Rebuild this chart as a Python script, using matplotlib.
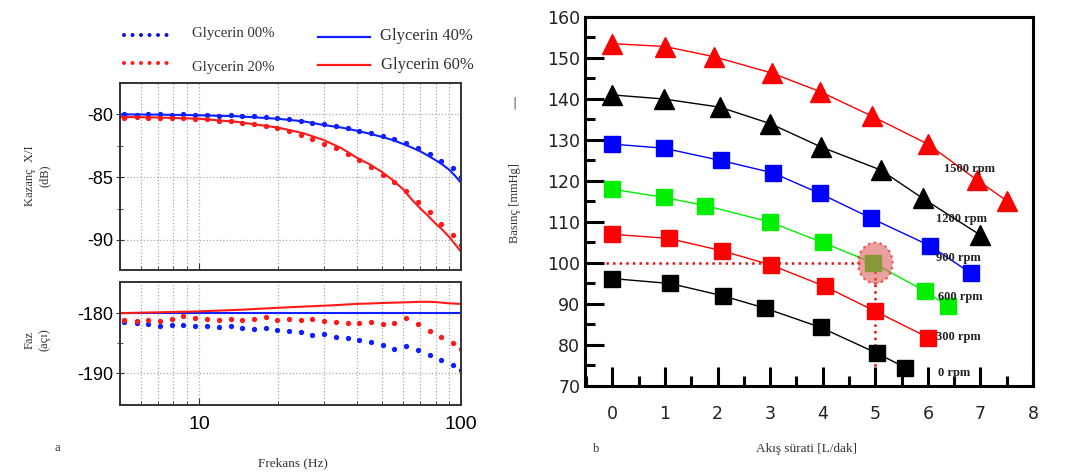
import matplotlib
matplotlib.use('Agg')
import matplotlib.pyplot as plt
from matplotlib.lines import Line2D
from matplotlib.patches import Ellipse
from matplotlib.ticker import LogLocator, NullFormatter, FixedLocator, MultipleLocator, FixedFormatter

# ---- panel a: bode-type data ----
f_pts = [5.2, 5.8, 6.4, 7.1, 7.9, 8.7, 9.7, 10.7, 11.9, 13.2, 14.6, 16.2, 18.0, 19.9, 22.1,
         24.5, 27.1, 30.1, 33.3, 36.9, 40.9, 45.4, 50.3, 55.7, 61.8, 68.5, 75.9, 84.1, 93.2, 100.0]
gain_00 = [-80.0, -80.05, -79.98, -80.0, -80.03, -79.98, -80.05, -80.05, -80.1, -80.08, -80.12, -80.15,
           -80.22, -80.3, -80.4, -80.5, -80.65, -80.8, -80.95, -81.1, -81.3, -81.5, -81.75, -82.0,
           -82.3, -82.65, -83.15, -83.7, -84.3, -85.0]
gain_20 = [-80.25, -80.2, -80.3, -80.25, -80.3, -80.3, -80.4, -80.4, -80.5, -80.55, -80.65, -80.75,
           -80.95, -81.1, -81.35, -81.65, -81.95, -82.35, -82.7, -83.15, -83.65, -84.2, -84.8, -85.4,
           -86.1, -86.95, -87.8, -88.7, -89.6, -90.4]
phase_00 = [-181.5, -181.7, -181.8, -182.1, -181.9, -182.0, -182.1, -182.2, -182.3, -182.2, -182.5,
            -182.6, -182.5, -182.8, -182.9, -183.2, -183.6, -183.5, -183.9, -184.1, -184.5, -184.8,
            -185.3, -186.0, -185.5, -186.2, -187.0, -187.8, -188.6, -189.4]
phase_20 = [-181.2, -181.3, -181.1, -181.3, -181.0, -180.4, -180.8, -181.0, -181.2, -180.9, -181.2,
            -181.0, -180.7, -181.1, -181.0, -181.2, -181.0, -181.3, -181.5, -181.6, -181.7, -181.4,
            -181.8, -181.6, -180.8, -181.8, -182.9, -184.0, -185.0, -186.0]

f_line = [5, 7, 10, 14, 20, 25, 30, 35, 40, 45, 50, 55, 60, 65, 70, 75, 80, 85, 90, 95, 100]
gain_40 = [-80.0, -80.02, -80.07, -80.15, -80.35, -80.55, -80.85, -81.05, -81.3, -81.55, -81.8,
           -82.05, -82.35, -82.65, -82.95, -83.3, -83.65, -84.0, -84.4, -84.9, -85.45]
gain_60 = [-80.2, -80.25, -80.35, -80.6, -81.05, -81.5, -82.05, -82.7, -83.45, -84.0, -84.6,
           -85.25, -85.95, -86.8, -87.5, -88.1, -88.7, -89.2, -89.75, -90.35, -90.95]
phase_60 = [-180.0, -179.85, -179.7, -179.45, -179.1, -178.9, -178.75, -178.6, -178.45, -178.38,
            -178.3, -178.25, -178.2, -178.15, -178.1, -178.1, -178.15, -178.25, -178.35, -178.4, -178.45]
phase_40 = [-180.0] * len(f_line)

# ---- panel b: pump curves ----
rpm_labels = ['1500 rpm', '1200 rpm', '900 rpm', '600 rpm', '300 rpm', '0 rpm']
flow = [
    [0, 1.0, 1.94, 3.04, 3.95, 4.94, 6.0, 6.94, 7.5],
    [0, 0.98, 2.05, 3.0, 3.97, 5.1, 5.9, 7.0],
    [0, 0.98, 2.06, 3.05, 3.94, 4.91, 6.04, 6.82],
    [0, 0.98, 1.77, 3.0, 4.0, 4.96, 5.94, 6.38],
    [0, 1.07, 2.08, 3.02, 4.04, 4.99, 6.01],
    [0, 1.1, 2.1, 2.9, 3.96, 5.03, 5.57],
]
pressure = [
    [153.5, 152.8, 150.3, 146.3, 141.8, 135.8, 129.0, 120.2, 115.2],
    [141.0, 140.0, 138.0, 134.0, 128.3, 122.7, 115.8, 106.8],
    [129.0, 128.0, 125.0, 122.0, 117.0, 111.0, 104.2, 97.5],
    [118.0, 116.0, 114.0, 110.0, 105.0, 100.0, 93.2, 89.5],
    [107.0, 106.0, 103.0, 99.5, 94.3, 88.3, 81.8],
    [96.2, 95.0, 92.0, 89.0, 84.3, 78.0, 74.5],
]
curve_colors = ['#ff0000', '#000000', '#0000ff', '#00ee00', '#ff0000', '#000000']
curve_markers = ['^', '^', 's', 's', 's', 's']
label_pos = [(6.3, 123), (6.15, 110.7), (6.15, 101.2), (6.2, 91.7), (6.15, 82.0), (6.2, 73.2)]
op_flow = 5
op_pressure = 100

fig = plt.figure(figsize=(10.9, 4.75), dpi=100)
W, H = 1090.0, 475.0

def fx(px):
    return px / W

def fy(py):
    return 1 - py / H

blue = '#1020ff'
red = '#ff1a1a'
grid_kw = dict(color='#aaaaaa', linestyle=':', linewidth=0.9)

ax1 = fig.add_axes([fx(120), fy(270), (461 - 120) / W, (270 - 83) / H])
ax2 = fig.add_axes([fx(120), fy(405), (461 - 120) / W, (405 - 282) / H])

ms = 2.8
ax1.plot(f_pts, gain_00, linestyle='none', marker='o', markersize=ms, color=blue)
ax1.plot(f_pts, gain_20, linestyle='none', marker='o', markersize=ms, color=red)
ax1.plot(f_line, gain_40, color=blue, linewidth=1.5)
ax1.plot(f_line, gain_60, color=red, linewidth=1.5)
ax2.plot(f_pts, phase_00, linestyle='none', marker='o', markersize=ms, color=blue)
ax2.plot(f_pts, phase_20, linestyle='none', marker='o', markersize=ms, color=red)
ax2.plot(f_line, phase_40, color=blue, linewidth=1.5)
ax2.plot(f_line, phase_60, color=red, linewidth=1.5)

for ax in (ax1, ax2):
    ax.set_xscale('log')
    ax.set_xlim(5, 100)
    ax.xaxis.set_major_locator(FixedLocator([10, 100]))
    ax.xaxis.set_minor_locator(LogLocator(base=10, subs=range(2, 10)))
    ax.xaxis.set_minor_formatter(NullFormatter())
    ax.grid(True, which='both', axis='x', **grid_kw)
    ax.grid(True, which='major', axis='y', **grid_kw)
    for s in ax.spines.values():
        s.set_color('#333333')
        s.set_linewidth(1.4)
    ax.tick_params(axis='both', which='both', direction='in', color='#333333')
    ax.tick_params(axis='x', which='major', length=5)
    ax.tick_params(axis='x', which='minor', length=3)
    ax.tick_params(axis='y', which='major', direction='inout', length=6, labelsize=13, pad=2)
    ax.tick_params(axis='y', which='minor', direction='inout', length=4)

ax1.set_ylim(-92.4, -77.5)
ax1.yaxis.set_major_locator(FixedLocator([-90, -85, -80]))
ax1.yaxis.set_minor_locator(FixedLocator([-92.5, -87.5, -82.5]))
ax1.yaxis.set_major_formatter(FixedFormatter(['-90', '-85', '-80']))
ax1.tick_params(axis='x', labelbottom=False)

ax2.set_ylim(-195.3, -174.8)
ax2.yaxis.set_major_locator(FixedLocator([-190, -180]))
ax2.yaxis.set_minor_locator(FixedLocator([-185]))
ax2.yaxis.set_major_formatter(FixedFormatter(['-190', '-180']))
ax2.xaxis.set_major_formatter(FixedFormatter(['10', '100']))
ax2.tick_params(axis='x', which='major', labelsize=14, pad=8)
for t in ax1.get_yticklabels() + ax2.get_yticklabels() + ax2.get_xticklabels():
    t.set_family('Liberation Sans')

serif = 'Liberation Serif'
fig.text(fx(37), fy(176), 'Kazanç  X/I\n(dB)', rotation=90, ha='center', va='center',
         family=serif, fontsize=9, color='#333333', linespacing=1.3)
fig.text(fx(37), fy(340), 'Faz\n(açı)', rotation=90, ha='center', va='center',
         family=serif, fontsize=9, color='#333333', linespacing=1.3)
fig.text(fx(293), fy(463), 'Frekans (Hz)', ha='center', va='center', family=serif,
         fontsize=9.5, color='#333333')
fig.text(fx(57), fy(448), 'a', ha='center', va='center', family=serif, fontsize=9, color='#333333')

# legend above panel a
dot_style = (0, (0.01, 2.1))
fig.add_artist(Line2D([fx(124), fx(173)], [fy(35), fy(35)], linestyle=dot_style,
                      linewidth=2.9, color='#1010d0', dash_capstyle='round'))
fig.add_artist(Line2D([fx(124), fx(173)], [fy(63), fy(63)], linestyle=dot_style,
                      linewidth=2.9, color=red, dash_capstyle='round'))
fig.add_artist(Line2D([fx(318), fx(370)], [fy(37), fy(37)], linewidth=1.6, color=blue))
fig.add_artist(Line2D([fx(318), fx(370)], [fy(65), fy(65)], linewidth=1.6, color=red))
fig.text(fx(192), fy(34), 'Glycerin 00%', family=serif, fontsize=10.6, va='center', color='#333333')
fig.text(fx(192), fy(67), 'Glycerin 20%', family=serif, fontsize=10.6, va='center', color='#333333')
fig.text(fx(380), fy(36), 'Glycerin 40%', family=serif, fontsize=12, va='center', color='#333333')
fig.text(fx(381), fy(65), 'Glycerin 60%', family=serif, fontsize=12, va='center', color='#333333')

# ---- panel b ----
ax3 = fig.add_axes([fx(585), fy(386), (1033 - 585) / W, (386 - 17) / H])
ax3.plot([-0.5, op_flow], [op_pressure, op_pressure], color='#e01010', linestyle=':', linewidth=1.8, zorder=1)
ax3.plot([op_flow, op_flow], [70, op_pressure], color='#e01010', linestyle=':', linewidth=1.8, zorder=1)
for xs, ys, c, m in zip(flow, pressure, curve_colors, curve_markers):
    ax3.plot(xs, ys, color=c, linewidth=1.0, zorder=2)
    ax3.plot(xs, ys, linestyle='none', marker=m, markersize=14 if m == '^' else 11,
             color=c, markeredgecolor=c, zorder=3)
for (lx, ly), lab in zip(label_pos, rpm_labels):
    ax3.text(lx, ly, lab, family=serif, fontweight='bold', fontsize=9, color='#222222',
             va='center', ha='left', zorder=4)
ax3.add_patch(Ellipse((op_flow, op_pressure), 0.66, 10.0, facecolor='#e06060', alpha=0.6,
                      edgecolor='#d01010', linestyle=':', linewidth=1.6, zorder=5))

ax3.set_xlim(-0.52, 8.0)
ax3.set_ylim(70, 160)
ax3.xaxis.set_major_locator(MultipleLocator(1))
ax3.xaxis.set_minor_locator(MultipleLocator(0.5))
ax3.yaxis.set_major_locator(MultipleLocator(10))
ax3.yaxis.set_minor_locator(MultipleLocator(5))
ax3.tick_params(axis='both', which='major', direction='in', length=14, width=2.2, labelsize=12.5)
ax3.tick_params(axis='both', which='minor', direction='in', length=7, width=2.2)
ax3.tick_params(axis='x', pad=14)
for s in ax3.spines.values():
    s.set_linewidth(2.2)
for t in ax3.get_xticklabels() + ax3.get_yticklabels():
    t.set_family('DejaVu Sans')
    t.set_color('#222222')

fig.text(fx(515), fy(203), 'Basınç [mmHg]', rotation=90, ha='center', va='center',
         family=serif, fontsize=9, color='#333333')
fig.text(fx(515), fy(103), '|', ha='center', va='center', fontsize=9, color='#555555')
fig.text(fx(807), fy(449), 'Akış sürati [L/dak]', ha='center', va='center', family=serif,
         fontsize=9.5, color='#333333')
fig.text(fx(596), fy(449), 'b', ha='center', va='center', family=serif, fontsize=9, color='#333333')

fig.savefig('out.png', dpi=100)
